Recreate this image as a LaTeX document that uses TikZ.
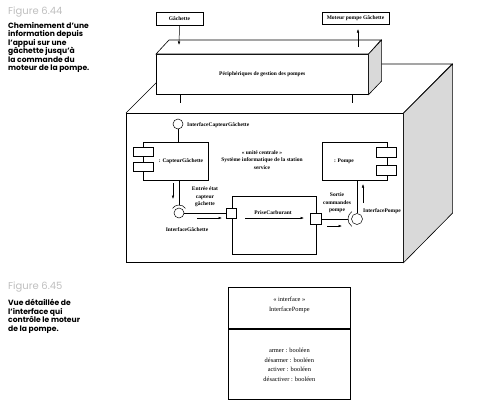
\documentclass[tikz,border=0pt]{standalone}
\usepackage{fontspec}
\setmainfont{Liberation Serif}
\newfontfamily\legendfont{Poppins}
\usetikzlibrary{arrows.meta,positioning}

\begin{document}
\begin{tikzpicture}[x=1pt,y=-1pt,
	box/.style={draw,line width=0.6pt,inner sep=0pt,fill=white},
	petit/.style={font=\fontsize{5.5}{7.4}\selectfont\bfseries,align=center,inner sep=0pt},
	classetxt/.style={font=\fontsize{6.4}{9.5}\selectfont,align=center,inner sep=0pt},
	lien/.style={line width=0.5pt},
	fleche/.style={line width=0.5pt,-{Latex[length=3.5pt,width=2.6pt]}},
	port/.style={draw,fill=white,line width=0.5pt,minimum size=10,inner sep=0pt},
	boule/.style={draw,circle,fill=white,line width=0.5pt,minimum size=10,inner sep=0pt},
	legende/.style={font=\legendfont\fontsize{7.6}{8.5}\selectfont\bfseries,align=left,anchor=north west,inner sep=0pt},
	numero/.style={font=\legendfont\fontsize{10}{10}\selectfont,text=gray!50,anchor=west,inner sep=0pt}]
	\useasboundingbox[fill=white] (0,0) rectangle (484,405);

	\node[numero] (fig44) at (8,12) {Figure 6.44};
	\node[legende] (txt44) at (8,22) {Cheminement d’une\\information depuis\\l’appui sur une\\gâchette jusqu’à\\la commande du\\moteur de la pompe.};
	\node[numero] (fig45) at (8,287) {Figure 6.45};
	\node[legende] (txt45) at (8,299) {Vue détaillée de\\l’interface qui\\contrôle le moteur\\de la pompe.};

	% noeud unite centrale
	\node[draw,line width=0.6pt,minimum width=277,minimum height=149,anchor=north west] (cube) at (126,113) {};
	\draw[line width=0.6pt] (cube.north west) -- ++(49,-49) -- ++(277,0) -- (cube.north east);
	\draw[line width=0.6pt,fill=gray!30] (cube.north east) -- ++(49,-49) -- ++(0,149) -- (cube.south east) -- cycle;

	% peripheriques
	\node[box,petit,minimum width=212,minimum height=40,anchor=north west] (peri) at (156,54) {Périphériques de gestion des pompes};
	\draw[line width=0.6pt,fill=white] (peri.north west) -- ++(13,-14) -- ++(212,0) -- (peri.north east) -- cycle;
	\draw[line width=0.6pt,fill=gray!30] (peri.north east) -- ++(13,-14) -- ++(0,41) -- (peri.south east) -- cycle;

	\node[box,petit,minimum width=47,minimum height=13] (gachette) at (179.5,18.5) {Gâchette};
	\node[box,petit,minimum width=67,minimum height=12] (moteur) at (355.5,18) {Moteur pompe Gâchette};
	\coordinate (g1) at (179,45);
	\coordinate (m1) at (358,47);
	\coordinate (m2) at (358,29);
	\draw[fleche] (gachette.south) -- (g1);
	\draw[fleche] (m1) -- (m2);
	\coordinate (c1) at (180,103);
	\coordinate (c2) at (352,103);
	\draw[lien] (c1 |- peri.south) -- (c1);
	\draw[lien] (c2 |- peri.south) -- (c2);

	% capteur
	\node[boule] (icg) at (178,124) {};
	\node[petit,anchor=west] (icgtxt) at (187,125) {InterfaceCapteurGâchette};
	\node[box,minimum width=65,minimum height=38,anchor=north west] (capteur) at (143,142) {};
	\node[petit] (capteurtxt) at (181,161) {: CapteurGâchette};
	\node[box,minimum width=20,minimum height=9] (cp1) at (143,151.5) {};
	\node[box,minimum width=20,minimum height=9] (cp2) at (143,166.5) {};
	\draw[lien] (icg) -- (icg |- capteur.north);

	\node[petit] (unite) at (262,160) {« unité centrale »\\Système informatique de la station\\service};

	% interface gachette
	\node[boule] (bg) at (179,213) {};
	\coordinate (sg) at (179,205);
	\draw[lien] (capteur.south -| sg) -- (sg);
	\draw[lien] ([shift={(-35:8)}]bg.center) arc[start angle=-35,end angle=-145,radius=8];
	\draw[fleche] (173,183) -- (173,199);
	\node[petit] (entree) at (205,197) {Entrée état\\capteur\\gâchette};
	\node[petit] (igtxt) at (187,230) {InterfaceGâchette};

	% prise carburant
	\node[box,minimum width=84,minimum height=58,anchor=north west] (prise) at (232,196) {};
	\node[port] (pin) at (231,213) {};
	\node[port,minimum size=11] (pout) at (316,219) {};
	\draw[lien] (bg) -- (pin);
	\draw[fleche] (197,218) -- (222,218);
	\coordinate (f1) at (245,218);
	\coordinate (f2) at (304,218);
	\draw[fleche] (f1) -- (f2);
	\node[petit] (prisetxt) at (273,213) {PriseCarburant};

	% interface pompe
	\node[boule,minimum size=11] (bp) at (357,219) {};
	\coordinate (sp) at (348,219);
	\draw[lien] (pout) -- (sp);
	\draw[lien] ([shift={(125:9)}]bp.center) arc[start angle=125,end angle=235,radius=9];
	\draw[fleche] (327,226) -- (342,226);
	\node[petit] (sortie) at (337,203) {Sortie\\commandes\\pompe};
	\node[petit,anchor=west] (iptxt) at (363,211) {InterfacePompe};

	% pompe
	\node[box,minimum width=65,minimum height=38,anchor=north west] (pompe) at (322,142) {};
	\node[petit] (pompetxt) at (344,161) {: Pompe};
	\node[box,minimum width=20,minimum height=10] (pp1) at (386,152) {};
	\node[box,minimum width=20,minimum height=10] (pp2) at (386,170) {};
	\draw[lien] (bp) -- (bp |- pompe.south);
	\draw[fleche] (363,203) -- (363,184);

	% vue detaillee de l'interface
	\node[draw,line width=0.7pt,minimum width=122,minimum height=41,anchor=north west,inner sep=0pt] (classe) at (228,287) {};
	\node[classetxt] (classetxt) at ([yshift=3]classe.center) {« interface »\\InterfacePompe};
	\node[draw,line width=0.7pt,minimum width=122,minimum height=70,anchor=north west,inner sep=0pt] (attr) at (classe.south west) {};
	\node[classetxt] (attrtxt) at ([yshift=-1]attr.center) {armer : booléen\\désarmer : booléen\\activer : booléen\\désactiver : booléen};
\end{tikzpicture}
\end{document}
